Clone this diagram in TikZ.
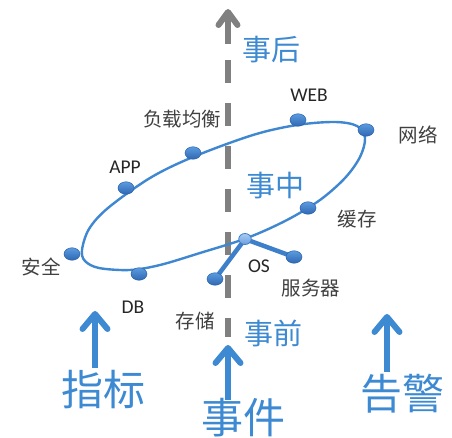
\documentclass[tikz,border=0pt]{standalone}
\usepackage{fontspec}
\setmainfont{Carlito}
\newfontfamily\cjk{Noto Sans CJK SC}
\usetikzlibrary{shapes.geometric,arrows.meta}
\definecolor{ringblue}{HTML}{3F87D0}
\definecolor{txtblue}{HTML}{3D8AD2}
\definecolor{dashgray}{HTML}{808080}
\definecolor{lblgray}{HTML}{404040}
\definecolor{lbldark}{HTML}{262626}
\definecolor{dottop}{HTML}{5B9BE0}
\definecolor{dotbot}{HTML}{2F68B2}
\definecolor{dotedge}{HTML}{2C64AC}
\definecolor{hubtop}{HTML}{A9CBF2}
\definecolor{hubbot}{HTML}{6B9FDC}
\definecolor{spokeblue}{HTML}{3E7FC9}
\begin{document}
\begin{tikzpicture}[x=1pt,y=-1pt,
  dot/.style={ellipse, minimum width=16pt, minimum height=12.5pt, inner sep=0pt,
    top color=dottop, bottom color=dotbot, draw=dotedge, line width=0.5pt},
  hub/.style={ellipse, minimum width=12.5pt, minimum height=11pt, inner sep=0pt,
    top color=hubtop, bottom color=hubbot, draw=spokeblue, line width=0.8pt},
  cjklbl/.style={font=\cjk\fontsize{19.5}{20}\selectfont, text=lblgray, inner sep=0pt},
  latlbl/.style={font=\fontsize{19.5}{20}\selectfont, text=lbldark, inner sep=0pt},
  phase/.style={font=\cjk\fontsize{29}{30}\selectfont, text=txtblue, inner sep=0pt},
  bigword/.style={font=\cjk\fontsize{42}{43}\selectfont, text=txtblue, inner sep=0pt},
  timeline/.style={draw=dashgray, line width=6pt},
  uparrow/.style={draw=txtblue, line width=6pt, -{Straight Barb[length=15pt,width=25pt,round]}},
  ring/.style={draw=ringblue, line width=2.4pt},
  spoke/.style={draw=spokeblue, line width=4.5pt, line cap=round}
]
\useasboundingbox (0,0) rectangle (452,438);

% timeline (gray dashed with arrow)
\coordinate (tTop) at (228,9);
\coordinate (tShaft) at (228,44);
\coordinate (tDashA) at (228,60);
\coordinate (tDashB) at (228,337);
\draw[timeline, -{Straight Barb[length=13pt,width=19pt,round]}] (tShaft) -- (tTop);
\draw[timeline, dash pattern=on 23pt off 20pt] (tDashA) -- (tDashB);

% ring
\draw[ring] plot[smooth cycle, tension=0.55] coordinates {
  (82,250) (89,229) (108,208) (150,178) (193,157) (253,135) (297,125)
  (335,122) (357,126) (365,138) (360,157) (345,178) (320,200) (287,220)
  (247,238) (200,253) (160,265) (130,270) (99,268) (85,261)};

% spokes
\coordinate (hubc) at (245,239);
\coordinate (srvc) at (294,257);
\coordinate (stoc) at (215,279);
\draw[spoke] (hubc) -- (srvc);
\draw[spoke] (hubc) -- (stoc);

% dots
\node[dot] (dLB) at (193,153) {};
\node[dot] (dAPP) at (126,188) {};
\node[dot] (dSec) at (72,254) {};
\node[dot] (dDB) at (139,274) {};
\node[dot] (dWEB) at (298,120) {};
\node[dot] (dNet) at (366,130) {};
\node[dot] (dCache) at (308,208) {};
\node[dot] (dSrv) at (srvc) {};
\node[dot] (dSto) at (stoc) {};
\node[hub] (dOS) at (hubc) {};

% labels
\node[cjklbl] (lLB) at (182,119) {负载均衡};
\node[latlbl] (lAPP) at (125,167) {APP};
\node[cjklbl] (lSec) at (41,267) {安全};
\node[latlbl] (lDB) at (133,307) {DB};
\node[latlbl] (lWEB) at (309,95) {WEB};
\node[cjklbl] (lNet) at (418,135) {网络};
\node[cjklbl] (lCache) at (357,219) {缓存};
\node[latlbl] (lOS) at (259,266) {OS};
\node[cjklbl] (lSrv) at (311,288) {服务器};
\node[cjklbl] (lSto) at (195,321) {存储};

% phases
\node[phase] (pAfter) at (271,50) {事后};
\node[phase] (pDuring) at (275,186) {事中};
\node[phase] (pBefore) at (273,333) {事前};

% bottom words with arrows
\node[bigword] (wMetric) at (103,390) {指标};
\node[bigword] (wEvent) at (243,418) {事件};
\node[bigword] (wAlert) at (402,394) {告警};
\coordinate (aMetricTop) at (95,311);
\coordinate (aMetricBot) at (95,368);
\coordinate (aEventTop) at (228,345);
\coordinate (aEventBot) at (228,400);
\coordinate (aAlertTop) at (387,314);
\coordinate (aAlertBot) at (387,372);
\draw[uparrow] (aMetricBot) -- (aMetricTop);
\draw[uparrow] (aEventBot) -- (aEventTop);
\draw[uparrow] (aAlertBot) -- (aAlertTop);
\end{tikzpicture}
\end{document}
